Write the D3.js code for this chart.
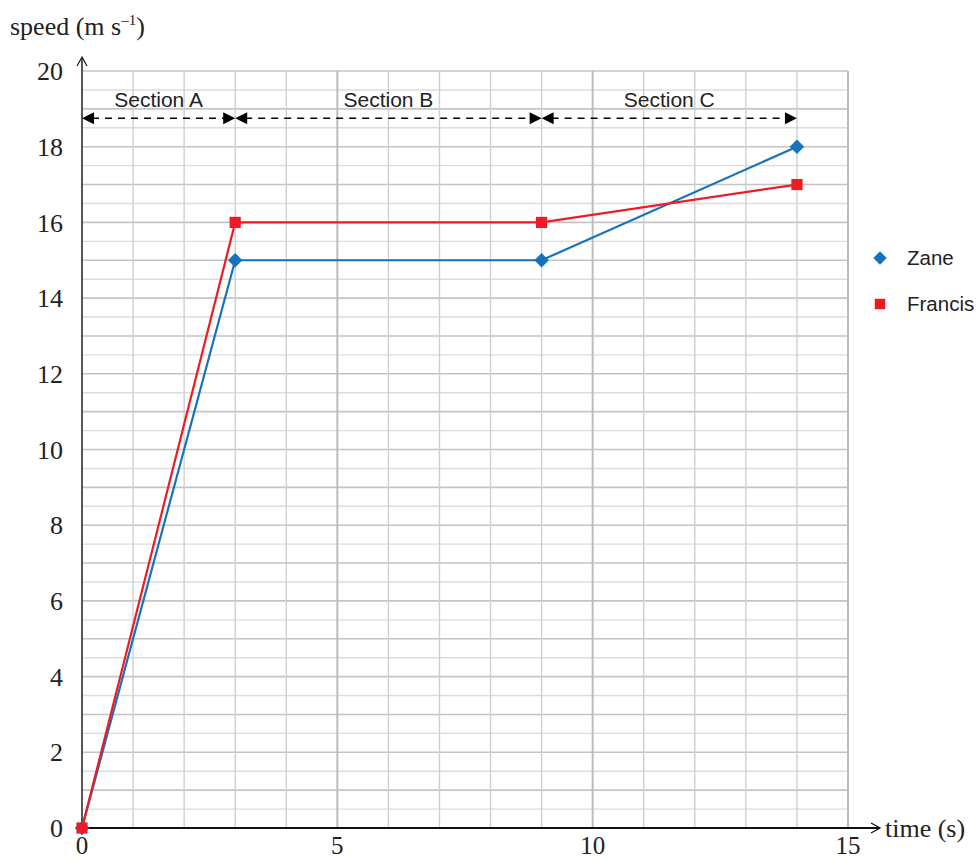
<!DOCTYPE html>
<html><head><meta charset="utf-8">
<script src="https://cdn.jsdelivr.net/npm/d3@7/dist/d3.min.js"></script>
<style>body{margin:0;background:#fff}</style>
</head><body>
<script>
const times = [0, 3, 9, 14];
const zane = [0, 15, 15, 18];
const francis = [0, 16, 16, 17];
const xTicks = [0, 5, 10, 15];
const yTicks = [0, 2, 4, 6, 8, 10, 12, 14, 16, 18, 20];
const sections = [{name: "Section A", from: 0, to: 3}, {name: "Section B", from: 3, to: 9}, {name: "Section C", from: 9, to: 14}];
const seriesNames = ["Zane", "Francis"];
const colors = ["#1672bb", "#ed1c24"];

const W = 979, H = 861;
const svg = d3.select("body").append("svg").attr("width", W).attr("height", H);
const x = d3.scaleLinear().domain([0, 15]).range([82, 848]);
const y = d3.scaleLinear().domain([0, 20]).range([828, 71]);

// grid
const g = svg.append("g");
d3.range(0.5, 20.01, 0.5).forEach(v => {
  const major = Number.isInteger(v);
  g.append("line").attr("x1", x(0)).attr("x2", x(15)).attr("y1", y(v)).attr("y2", y(v))
    .attr("stroke", major ? "#c4c4c6" : "#dcdcde").attr("stroke-width", major ? 1.6 : 1.4);
});
d3.range(1, 15.01, 1).forEach(v => {
  const major = v % 5 === 0;
  g.append("line").attr("x1", x(v)).attr("x2", x(v)).attr("y1", y(0)).attr("y2", y(20))
    .attr("stroke", major ? "#bcbcbe" : "#cfcfd1").attr("stroke-width", major ? 2 : 1.4);
});

// axes
svg.append("line").attr("x1", x(0)).attr("x2", x(0)).attr("y1", y(0)).attr("y2", 58)
  .attr("stroke", "#444").attr("stroke-width", 1.8);
svg.append("path").attr("d", `M${x(0)-5},${66} L${x(0)},${57} L${x(0)+5},${66}`)
  .attr("fill", "none").attr("stroke", "#222").attr("stroke-width", 1.3);
svg.append("line").attr("x1", x(0)).attr("x2", 880).attr("y1", y(0)).attr("y2", y(0))
  .attr("stroke", "#111").attr("stroke-width", 1.8);
svg.append("path").attr("d", `M${871},${y(0)-5} L${880},${y(0)} L${871},${y(0)+5}`)
  .attr("fill", "none").attr("stroke", "#111").attr("stroke-width", 1.3);

const serif = "'Liberation Serif','Times New Roman',serif";
const sans = "'Liberation Sans',Arial,sans-serif";

svg.selectAll(".yt").data(yTicks).enter().append("text")
  .attr("x", 63).attr("y", d => y(d)).attr("dy", "0.35em").attr("text-anchor", "end")
  .attr("font-family", serif).attr("font-size", 26).attr("fill", "#222").text(d => d);
svg.selectAll(".xt").data(xTicks).enter().append("text")
  .attr("x", d => x(d)).attr("y", 854).attr("text-anchor", "middle")
  .attr("font-family", serif).attr("font-size", 25).attr("fill", "#222").text(d => d);

const yl = svg.append("text").attr("x", 10).attr("y", 35).attr("font-family", serif).attr("font-size", 26).attr("fill", "#222");
yl.append("tspan").text("speed (m s");
yl.append("tspan").attr("dy", -10).attr("font-size", 15).text("–1");
yl.append("tspan").attr("dy", 10).text(")");
svg.append("text").attr("x", 885).attr("y", 837).attr("font-family", serif).attr("font-size", 26).attr("fill", "#222").text("time (s)");

// sections
const ay = y(18.75);
sections.forEach(s => {
  const x1 = x(s.from), x2 = x(s.to);
  svg.append("line").attr("x1", x1 + 10).attr("x2", x2 - 10).attr("y1", ay).attr("y2", ay)
    .attr("stroke", "#000").attr("stroke-width", 1.5).attr("stroke-dasharray", "7,6");
  svg.append("path").attr("d", `M${x1},${ay} L${x1+12},${ay-6} L${x1+12},${ay+6}Z`).attr("fill", "#000");
  svg.append("path").attr("d", `M${x2},${ay} L${x2-12},${ay-6} L${x2-12},${ay+6}Z`).attr("fill", "#000");
  svg.append("text").attr("x", (x1 + x2) / 2).attr("y", y(19.25)).attr("dy", "0.35em")
    .attr("text-anchor", "middle").attr("font-family", sans).attr("font-size", 21).attr("fill", "#222").text(s.name);
});

// series
const line = d3.line().x(d => x(d[0])).y(d => y(d[1]));
const data = [zane, francis];
data.forEach((vals, i) => {
  const pts = times.map((t, j) => [t, vals[j]]);
  svg.append("path").attr("d", line(pts)).attr("fill", "none").attr("stroke", colors[i]).attr("stroke-width", 2.2);
});
// markers (diamond = rotated square)
const rot = [45, 0];
const sizes = [105, 125];
data.forEach((vals, i) => {
  svg.selectAll(".m" + i).data(times.map((t, j) => [t, vals[j]])).enter().append("path")
    .attr("transform", d => `translate(${x(d[0])},${y(d[1])}) rotate(${rot[i]})`)
    .attr("d", d3.symbol().type(d3.symbolSquare).size(sizes[i])).attr("fill", colors[i]);
});

// legend
seriesNames.forEach((n, i) => {
  const ly = 258 + i * 46;
  svg.append("path").attr("transform", `translate(880,${ly}) rotate(${rot[i]})`)
    .attr("d", d3.symbol().type(d3.symbolSquare).size(i === 0 ? 90 : 110)).attr("fill", colors[i]);
  svg.append("text").attr("x", 907).attr("y", ly).attr("dy", "0.35em")
    .attr("font-family", sans).attr("font-size", 20.5).attr("fill", "#222").text(n);
});
</script>
</body></html>
